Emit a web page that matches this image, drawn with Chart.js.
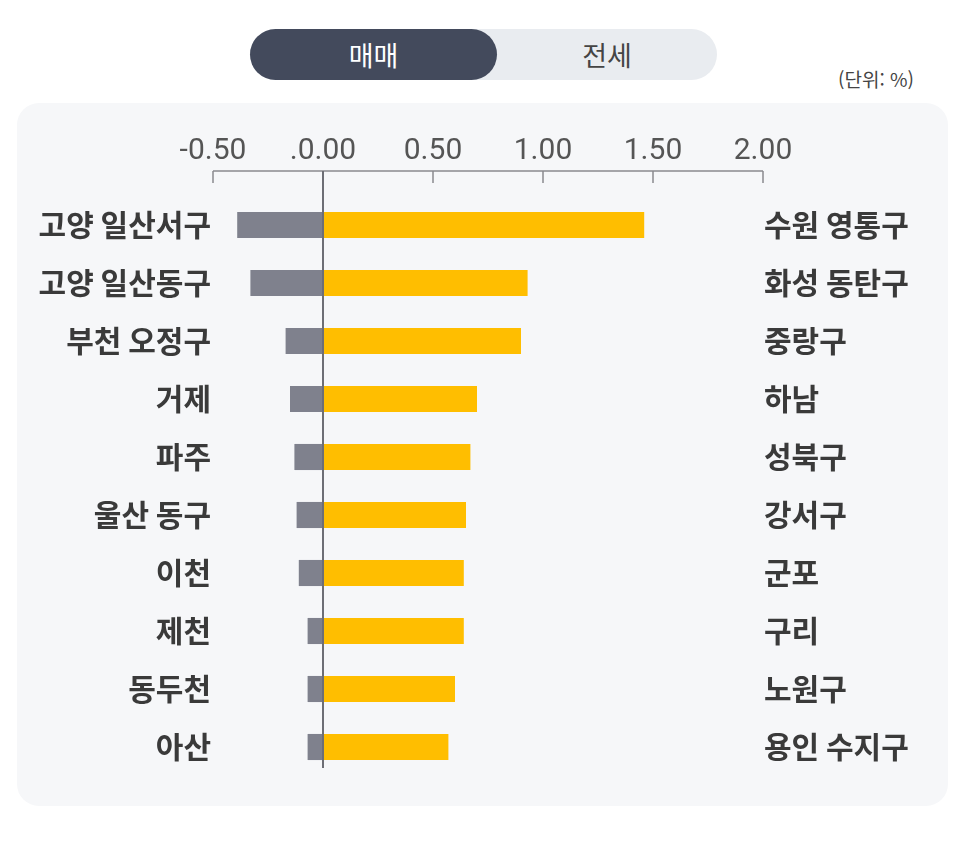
<!DOCTYPE html>
<html lang="ko">
<head>
<meta charset="utf-8">
<script src="https://cdn.jsdelivr.net/npm/chart.js@4.4.0/dist/chart.umd.min.js"></script>
<style>
  html, body { margin: 0; padding: 0; background: #fff; }
  body { width: 966px; height: 855px; position: relative; font-family: "Noto Sans CJK KR", "Noto Sans", sans-serif; }
  .toggle { position: absolute; left: 250px; top: 29px; width: 467px; height: 51px; border-radius: 26px; background: #e9ecf0; }
  .toggle span { position: absolute; top: 0; height: 51px; line-height: 51px; text-align: center; font-size: 27px; font-weight: 400; }
  .toggle .on { left: 0; width: 247px; background: #434a5c; color: #fff; border-radius: 26px; }
  .toggle .off { left: 247px; width: 220px; color: #444; }
  .unit { position: absolute; left: 838px; top: 65px; font-size: 19px; color: #444; }
  .card { position: absolute; left: 17px; top: 103px; width: 931px; height: 703px; border-radius: 22px; background: #f6f7f9; }
  .card canvas { position: absolute; left: 0; top: 0; }
</style>
</head>
<body>
<div class="toggle"><span class="on">매매</span><span class="off">전세</span></div>
<div class="unit">(단위: %)</div>
<div class="card"><canvas id="chart" width="931" height="703"></canvas></div>
<script>
// left side (negative) and right side (positive) regions
const leftLabels = ['고양 일산서구', '고양 일산동구', '부천 오정구', '거제', '파주', '울산 동구', '이천', '제천', '동두천', '아산'];
const rightLabels = ['수원 영통구', '화성 동탄구', '중랑구', '하남', '성북구', '강서구', '군포', '구리', '노원구', '용인 수지구'];
const fallValues = [-0.39, -0.33, -0.17, -0.15, -0.13, -0.12, -0.11, -0.07, -0.07, -0.07];
const riseValues = [1.46, 0.93, 0.90, 0.70, 0.67, 0.65, 0.64, 0.64, 0.60, 0.57];
const xTickLabels = ['-0.50', '.0.00', '0.50', '1.00', '1.50', '2.00'];

const labelFont = { family: '"Noto Sans CJK KR", sans-serif', size: 30, weight: '600' };

// top axis line with ticks pointing down, and the zero line over the bars
const axisPlugin = {
  id: 'axisMarks',
  afterDatasetsDraw(chart) {
    const { ctx, chartArea, scales } = chart;
    const x = scales.x;
    const lineY = chartArea.top - 25;
    ctx.save();
    ctx.strokeStyle = '#8a8a8f';
    ctx.lineWidth = 1.5;
    ctx.beginPath();
    ctx.moveTo(x.getPixelForValue(-0.5), lineY);
    ctx.lineTo(x.getPixelForValue(2), lineY);
    x.ticks.forEach(t => {
      const px = x.getPixelForValue(t.value);
      ctx.moveTo(px, lineY);
      ctx.lineTo(px, lineY + 12);
    });
    ctx.stroke();
    const zx = x.getPixelForValue(0);
    ctx.strokeStyle = '#6d6e75';
    ctx.lineWidth = 2;
    ctx.beginPath();
    ctx.moveTo(zx, lineY);
    ctx.lineTo(zx, chartArea.bottom - 8);
    ctx.stroke();
    ctx.restore();
  }
};

new Chart(document.getElementById('chart'), {
  type: 'bar',
  data: {
    labels: leftLabels,
    datasets: [
      { label: '하락', data: fallValues, backgroundColor: '#7f818d' },
      { label: '상승', data: riseValues, backgroundColor: '#ffbe00' }
    ]
  },
  options: {
    indexAxis: 'y',
    responsive: false,
    animation: false,
    layout: { padding: { left: 0, right: 0, top: 0, bottom: 30 } },
    datasets: { bar: { categoryPercentage: 1, barPercentage: 0.45 } },
    plugins: { legend: { display: false }, tooltip: { enabled: false } },
    scales: {
      x: {
        position: 'top',
        stacked: true,
        min: -0.5,
        max: 2,
        grid: { display: false, drawTicks: false },
        border: { display: false },
        ticks: {
          stepSize: 0.5,
          padding: 27,
          color: '#555',
          font: { family: 'Roboto, sans-serif', size: 30, weight: '400' },
          callback: (v, i) => xTickLabels[i]
        },
        afterFit: s => { s.height = 93; }
      },
      y: {
        position: 'left',
        stacked: true,
        grid: { display: false, drawTicks: false },
        border: { display: false },
        ticks: { padding: 2, color: '#3a3a3a', font: labelFont },
        afterFit: s => { s.width = 196; }
      },
      y2: {
        type: 'category',
        position: 'right',
        labels: rightLabels,
        grid: { display: false, drawTicks: false },
        border: { display: false },
        ticks: { padding: 1, color: '#3a3a3a', font: labelFont },
        afterFit: s => { s.width = 185; }
      }
    }
  },
  plugins: [axisPlugin]
});
</script>
</body>
</html>
